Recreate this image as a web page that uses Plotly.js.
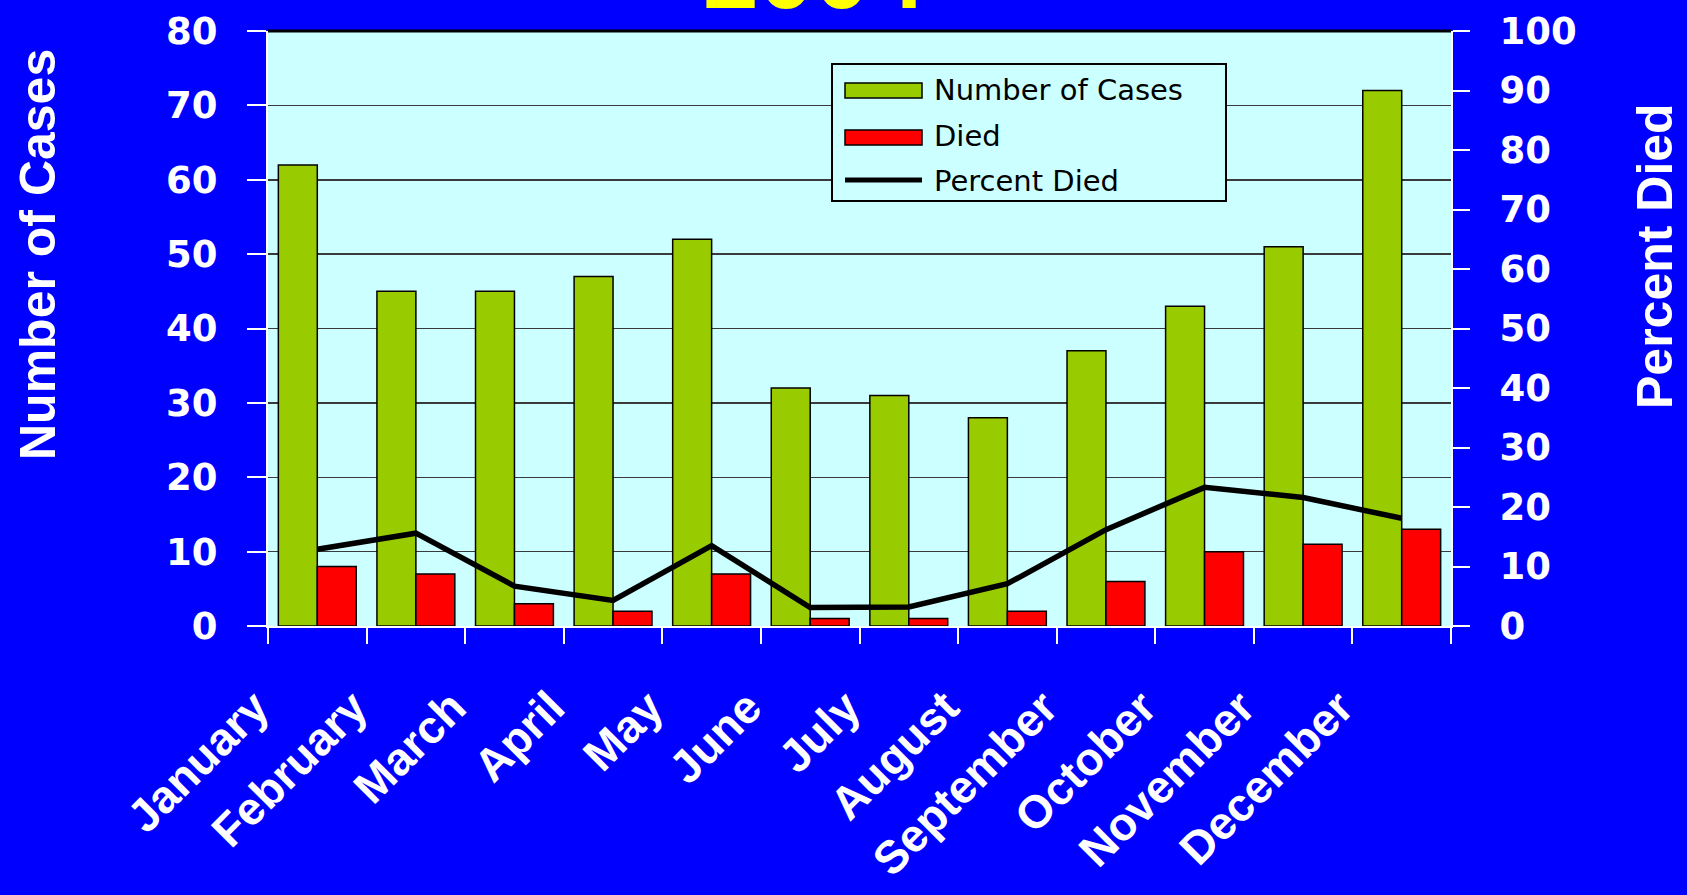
<!DOCTYPE html>
<html>
<head>
<meta charset="utf-8">
<script src="https://cdn.plot.ly/plotly-3.0.1.min.js"></script>
<style>
  html, body { margin: 0; padding: 0; background: #0000FF; }
  #chart { width: 1687px; height: 895px; }
</style>
</head>
<body>
<div id="chart"></div>
<script>
// Monthly case counts, deaths and case fatality percentage
const months = ["January", "February", "March", "April", "May", "June",
                "July", "August", "September", "October", "November", "December"];
const cases = [62, 45, 45, 47, 52, 32, 31, 28, 37, 43, 51, 72];
const died = [8, 7, 3, 2, 7, 1, 1, 2, 6, 10, 11, 13];
const percentDied = [12.9, 15.6, 6.7, 4.3, 13.5, 3.1, 3.2, 7.1, 16.2, 23.3, 21.6, 18.1];
const seriesNames = ["Number of Cases", "Died", "Percent Died"];
const yearLabel = "2004";

const WHITE = "#FFFFFF";
const CASES_COLOR = "#99CC00";
const DIED_COLOR = "#FF0000";
const boldWide = { family: "DejaVu Sans, Verdana, sans-serif", weight: "bold", color: WHITE };
const boldArial = "Liberation Sans, Arial, sans-serif";

const traces = [
  {
    type: "bar", name: seriesNames[0], x: months, y: cases,
    marker: { color: CASES_COLOR, line: { color: "#000000", width: 1.5 } }
  },
  {
    type: "bar", name: seriesNames[1], x: months, y: died,
    marker: { color: DIED_COLOR, line: { color: "#000000", width: 1.5 } }
  },
  {
    type: "scatter", mode: "lines", name: seriesNames[2], x: months, y: percentDied,
    yaxis: "y2",
    line: { color: "#000000", width: 5.5 }
  }
];

// Legend box drawn in paper coordinates (plot area spans 268..1451 x 31..626 px)
const PL = 268, PR = 1451, PT = 31, PB = 626;
const px = v => (v - PL) / (PR - PL);
const py = v => (PB - v) / (PB - PT);

const legendShapes = [
  { type: "rect", xref: "paper", yref: "paper", x0: px(832), x1: px(1226), y0: py(201), y1: py(64),
    fillcolor: "#CCFFFF", line: { color: "#000000", width: 2 }, layer: "above" },
  { type: "rect", xref: "paper", yref: "paper", x0: px(845), x1: px(922), y0: py(98), y1: py(83),
    fillcolor: CASES_COLOR, line: { color: "#000000", width: 1.5 }, layer: "above" },
  { type: "rect", xref: "paper", yref: "paper", x0: px(845), x1: px(922), y0: py(145), y1: py(130),
    fillcolor: DIED_COLOR, line: { color: "#000000", width: 1.5 }, layer: "above" },
  { type: "line", xref: "paper", yref: "paper", x0: px(845), x1: px(922), y0: py(180), y1: py(180),
    line: { color: "#000000", width: 5 }, layer: "above" }
];
const legendRows = [90, 136, 181];
const legendLabels = seriesNames.map((name, i) => ({
  text: name, xref: "paper", yref: "paper", x: px(932), y: py(legendRows[i]),
  xanchor: "left", yanchor: "middle", showarrow: false,
  font: { family: "DejaVu Sans, Verdana, sans-serif", size: 29, color: "#000000" }
}));

const layout = {
  width: 1687, height: 895,
  paper_bgcolor: "#0000FF",
  plot_bgcolor: "#CCFFFF",
  margin: { l: PL, r: 1687 - PR, t: PT, b: 895 - PB, pad: 0 },
  barmode: "group", bargap: 0.21, bargroupgap: 0,
  showlegend: false,
  xaxis: {
    type: "category", tickson: "boundaries",
    ticks: "outside", ticklen: 16, tickwidth: 2, tickcolor: WHITE,
    showline: true, linecolor: WHITE, linewidth: 2,
    showgrid: false, zeroline: false,
    tickangle: -45,
    tickfont: { family: boldArial, weight: "bold", size: 46, color: WHITE },
    ticklabelshift: -62, ticklabelstandoff: 34
  },
  yaxis: {
    range: [0, 80], dtick: 10, tick0: 0,
    ticks: "outside", ticklen: 19, tickwidth: 2, tickcolor: WHITE,
    showline: true, linecolor: WHITE, linewidth: 2,
    showgrid: true, gridcolor: "#3A3A3A", gridwidth: 1.5, zeroline: false,
    tickfont: Object.assign({ size: 37 }, boldWide),
    ticklabelstandoff: 22
  },
  yaxis2: {
    overlaying: "y", side: "right",
    range: [0, 100], dtick: 10, tick0: 0,
    ticks: "outside", ticklen: 17, tickwidth: 2, tickcolor: WHITE,
    showline: true, linecolor: WHITE, linewidth: 2,
    showgrid: false, zeroline: false,
    tickfont: Object.assign({ size: 37 }, boldWide),
    ticklabelstandoff: 22
  },
  // inner halves of the crossing tick marks
  xaxis2: {
    overlaying: "x", anchor: "y", range: [-0.5, 11.5], tick0: -0.5, dtick: 1,
    ticks: "inside", ticklen: 14, tickwidth: 2, tickcolor: WHITE,
    showticklabels: false, showgrid: false, showline: false, zeroline: false
  },
  yaxis3: {
    overlaying: "y", anchor: "x", range: [0, 80], dtick: 10,
    ticks: "inside", ticklen: 18, tickwidth: 2, tickcolor: WHITE,
    showticklabels: false, showgrid: false, showline: false, zeroline: false
  },
  yaxis4: {
    overlaying: "y", anchor: "x", side: "right", range: [0, 100], dtick: 10,
    ticks: "inside", ticklen: 18, tickwidth: 2, tickcolor: WHITE,
    showticklabels: false, showgrid: false, showline: false, zeroline: false
  },
  shapes: [
    { type: "line", xref: "paper", yref: "paper", x0: 0, x1: 1, y0: 1, y1: 1,
      line: { color: "#000000", width: 3 } }
  ].concat(legendShapes),
  annotations: [
    { text: yearLabel, xref: "paper", yref: "paper", x: 0.462, y: 1,
      xanchor: "center", yanchor: "bottom", yshift: 0, showarrow: false,
      font: { family: boldArial, weight: "bold", size: 100, color: "#FFFF00" } },
    { text: "Number of Cases", xref: "paper", yref: "paper", x: px(38), y: py(255),
      xanchor: "center", yanchor: "middle", textangle: -90, showarrow: false,
      font: { family: boldArial, weight: "bold", size: 50, color: WHITE } },
    { text: "Percent Died", xref: "paper", yref: "paper", x: px(1655), y: py(256),
      xanchor: "center", yanchor: "middle", textangle: -90, showarrow: false,
      font: { family: boldArial, weight: "bold", size: 50, color: WHITE } }
  ].concat(legendLabels)
};

Plotly.newPlot("chart", traces, layout, { displayModeBar: false, staticPlot: true });
</script>
</body>
</html>
